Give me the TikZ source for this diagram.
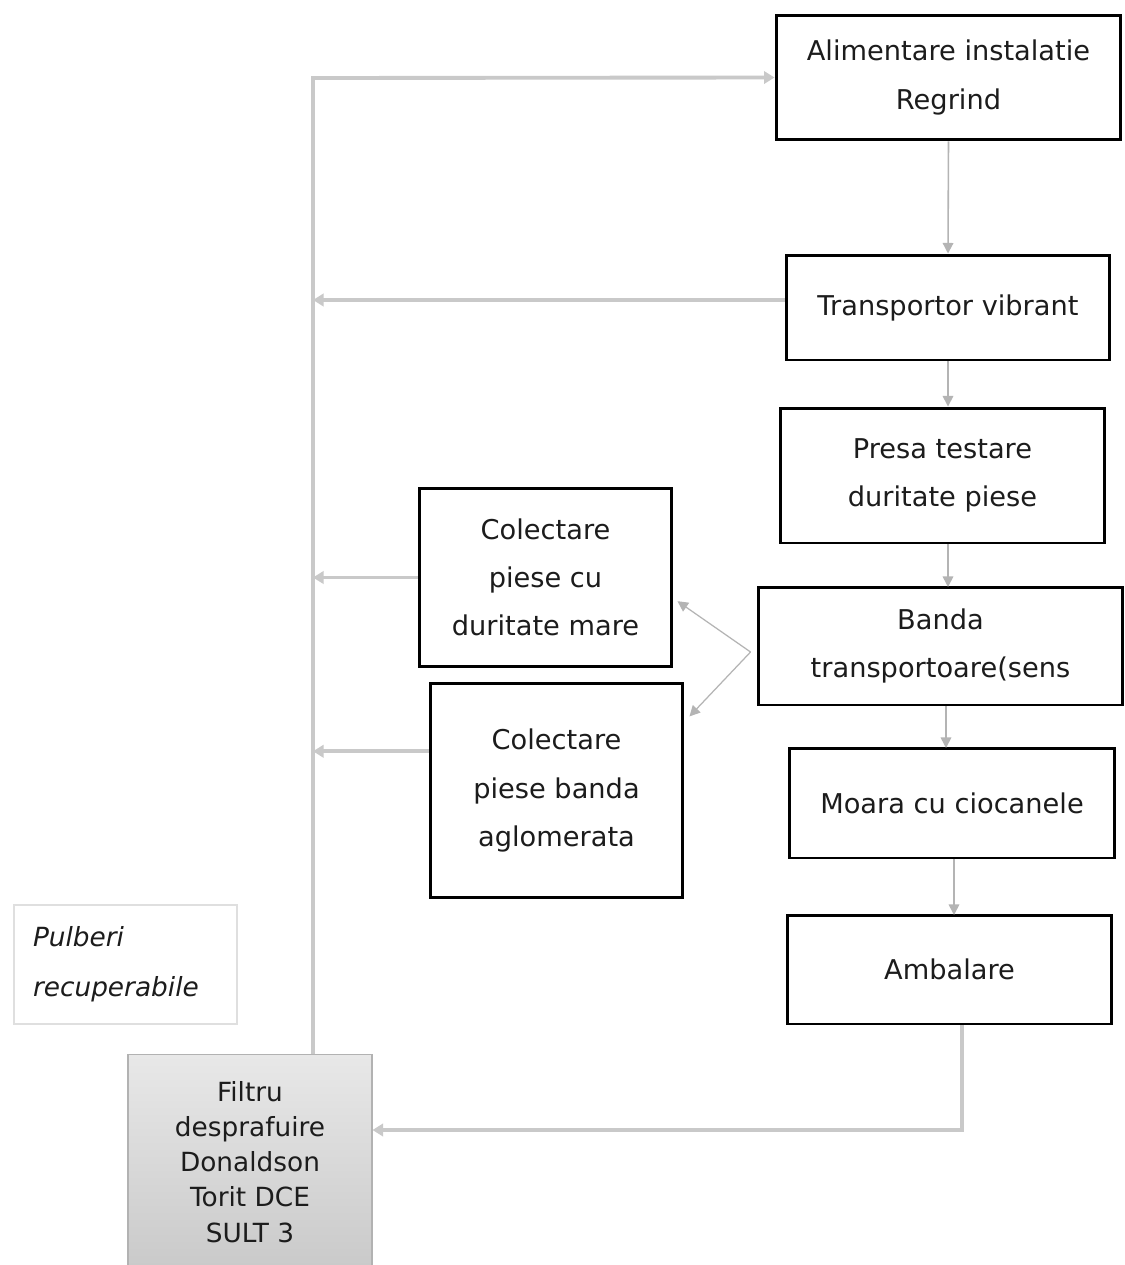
\documentclass[tikz,border=0pt]{standalone}
\usepackage{fontspec}
\setmainfont{DejaVu Sans}
\usetikzlibrary{arrows.meta,calc}
\definecolor{lnk}{HTML}{C9C9C9}
\definecolor{lnkd}{HTML}{B4B4B4}
\definecolor{txt}{HTML}{1C1C1C}
\tikzset{
  stepbox/.style={draw=black, line width=1.7pt, fill=white, align=center, text=txt,
    font=\fontsize{15.5}{27.5}\selectfont, inner sep=0pt},
  trunk/.style={draw=lnk, line width=2.2pt, -{Triangle[width=7pt,length=6pt]}},
  thin/.style={draw=lnkd, line width=0.9pt, -{Triangle[width=6pt,length=6pt]}},
  diag/.style={draw=lnkd, line width=0.7pt, -{Triangle[width=6pt,length=6pt]}},
}
\begin{document}
\begin{tikzpicture}[x=0.02cm,y=-0.02cm]
\useasboundingbox[fill=white] (0,0) rectangle (1125,1265);
% process boxes
\node[stepbox, minimum width=6.9cm, minimum height=2.5cm] (alim) at (948.5,77.5) {Alimentare instalatie\\Regrind};
\node[stepbox, minimum width=6.48cm, minimum height=2.1cm] (trans) at (948,307.5) {Transportor vibrant};
\node[stepbox, minimum width=6.5cm, minimum height=2.7cm] (presa) at (942.5,475.5) {Presa testare\\duritate piese};
\node[stepbox, minimum width=7.3cm, minimum height=2.36cm] (banda) at (940.5,646) {Banda\\transportoare(sens};
\node[stepbox, minimum width=6.52cm, minimum height=2.2cm] (moara) at (952,803) {Moara cu ciocanele};
\node[stepbox, minimum width=6.5cm, minimum height=2.18cm] (amb) at (949.5,969.5) {Ambalare};
\node[stepbox, minimum width=5.06cm, minimum height=3.58cm] (colm) at (545.5,577.5) {Colectare\\piese cu\\duritate mare};
\node[stepbox, minimum width=5.06cm, minimum height=4.3cm] (cola) at (556.5,790.5) {Colectare\\piese banda\\aglomerata};
% side label
\node[draw=gray!25, line width=0.6pt, fill=white, minimum width=4.46cm, minimum height=2.38cm,
  text width=3.7cm, align=left, text=txt, font=\fontsize{15}{28.5}\selectfont\itshape, inner sep=0pt]
  (pulb) at (125.5,964.5) {Pulberi\\recuperabile};
% filter
\node[draw=gray!60, line width=0.6pt, top color=gray!18, bottom color=gray!42, minimum width=4.88cm,
  minimum height=4.3cm, align=center, text=txt, font=\fontsize{15}{20}\selectfont, inner sep=0pt]
  (filt) at (250,1162) {Filtru\\desprafuire\\Donaldson\\Torit DCE\\SULT 3};
% coordinates for connector routing
\coordinate (T) at (313,78);
\coordinate (B) at (962,1130);
% return trunk
\draw[trunk] (filt.north -| T) -- (T) -- (alim.west);
\draw[trunk] ([yshift=0.15cm]trans.west) -- ([yshift=0.15cm]trans.west -| T);
\draw[trunk] (colm.west) -- (colm.west -| T);
\draw[trunk] ($(cola.north west)!0.32!(cola.south west)$) coordinate (ca) -- (ca -| T);
\draw[trunk] (amb.south -| B) -- (B) -- (B -| filt.east);
% main flow
\draw[thin] (alim.south) -- (trans.north);
\draw[thin] (trans.south) -- (trans.south |- presa.north);
\draw[thin] (presa.south -| 948,0) -- (948,587);
\draw[thin] (banda.south -| 946,0) -- (946,748);
\draw[thin] (moara.south -| 954,0) -- (954,915);
% split
\draw[diag] ([xshift=-0.12cm,yshift=-0.12cm]banda.west) coordinate (bw) -- ($(colm.north east)!0.63!(colm.south east)+(0.08cm,0)$);
\draw[diag] (bw) -- ($(cola.north east)!0.16!(cola.south east)+(0.1cm,0)$);
\end{tikzpicture}
\end{document}
